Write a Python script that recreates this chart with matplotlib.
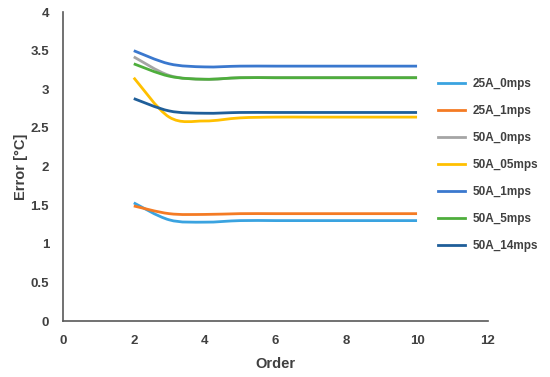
import numpy as np
import matplotlib
matplotlib.use("Agg")
from matplotlib import pyplot as plt
from matplotlib.path import Path
from matplotlib.patches import PathPatch
from matplotlib.lines import Line2D

# data
order = [2, 3, 4, 5, 6, 7, 8, 9, 10]
names = ["25A_0mps", "25A_1mps", "50A_0mps", "50A_05mps", "50A_1mps", "50A_5mps", "50A_14mps"]
a25_0 = [1.53, 1.31, 1.28, 1.30, 1.30, 1.30, 1.30, 1.30, 1.30]
a25_1 = [1.49, 1.39, 1.38, 1.39, 1.39, 1.39, 1.39, 1.39, 1.39]
a50_0 = [3.42, 3.18, 3.13, 3.15, 3.15, 3.15, 3.15, 3.15, 3.15]
a50_05 = [3.15, 2.64, 2.59, 2.63, 2.64, 2.64, 2.64, 2.64, 2.64]
a50_1 = [3.50, 3.33, 3.29, 3.30, 3.30, 3.30, 3.30, 3.30, 3.30]
a50_5 = [3.33, 3.17, 3.13, 3.15, 3.15, 3.15, 3.15, 3.15, 3.15]
a50_14 = [2.88, 2.72, 2.69, 2.70, 2.70, 2.70, 2.70, 2.70, 2.70]
series = [a25_0, a25_1, a50_0, a50_05, a50_1, a50_5, a50_14]
colors = ["#3AA3E0", "#F47B24", "#A5A5A5", "#FFC000", "#3A78CE", "#4EAE3C", "#1F5E99"]

plt.rcParams["font.family"] = ["Liberation Sans", "DejaVu Sans"]
plt.rcParams["font.weight"] = "bold"
plt.rcParams["axes.labelweight"] = "bold"


def smooth_path(x, y):
    # excel-like smoothed line drawn as bezier segments through the points
    p = np.column_stack([x, y]).astype(float)
    verts = [p[0]]
    codes = [Path.MOVETO]
    n = len(p)
    for i in range(n - 1):
        p0 = p[i - 1] if i > 0 else p[i]
        p3 = p[i + 2] if i + 2 < n else p[i + 1]
        c1 = p[i] + (p[i + 1] - p0) / 6
        c2 = p[i + 1] - (p3 - p[i]) / 6
        verts += [c1, c2, p[i + 1]]
        codes += [Path.CURVE4] * 3
    return Path(verts, codes)


fig = plt.figure(figsize=(5.5, 3.77), dpi=100)
ax = fig.add_axes([0.1145, 0.1485, 0.7725, 0.8195])

handles = []
for name, vals, c in zip(names, series, colors):
    ax.add_patch(PathPatch(smooth_path(order, vals), fill=False, edgecolor=c, lw=2, capstyle="butt"))
    handles.append(Line2D([], [], color=c, lw=2, label=name))

ax.set_xlim(0, 12)
ax.set_ylim(0, 4)
ax.set_xticks(range(0, 13, 2))
ax.set_yticks(np.arange(0, 4.01, 0.5))
ax.set_yticklabels(["0", "0.5", "1", "1.5", "2", "2.5", "3", "3.5", "4"])
ax.tick_params(length=0, labelsize=9.5, colors="#404040", pad=10)
for s in ["top", "right"]:
    ax.spines[s].set_visible(False)
for s in ["left", "bottom"]:
    ax.spines[s].set_color("#595959")
    ax.spines[s].set_linewidth(1.2)

ax.set_xlabel("Order", fontsize=10.5, color="#404040", labelpad=7)
ax.set_ylabel("Error [°C]", fontsize=10.5, color="#404040", labelpad=2)

fig.legend(handles=handles, loc="upper left", bbox_to_anchor=(0.788, 0.806),
           frameon=False, fontsize=8.5, handlelength=2.3, labelspacing=1.27,
           handletextpad=0.6, labelcolor="#404040", borderaxespad=0)

fig.savefig("out.png", dpi=100)
